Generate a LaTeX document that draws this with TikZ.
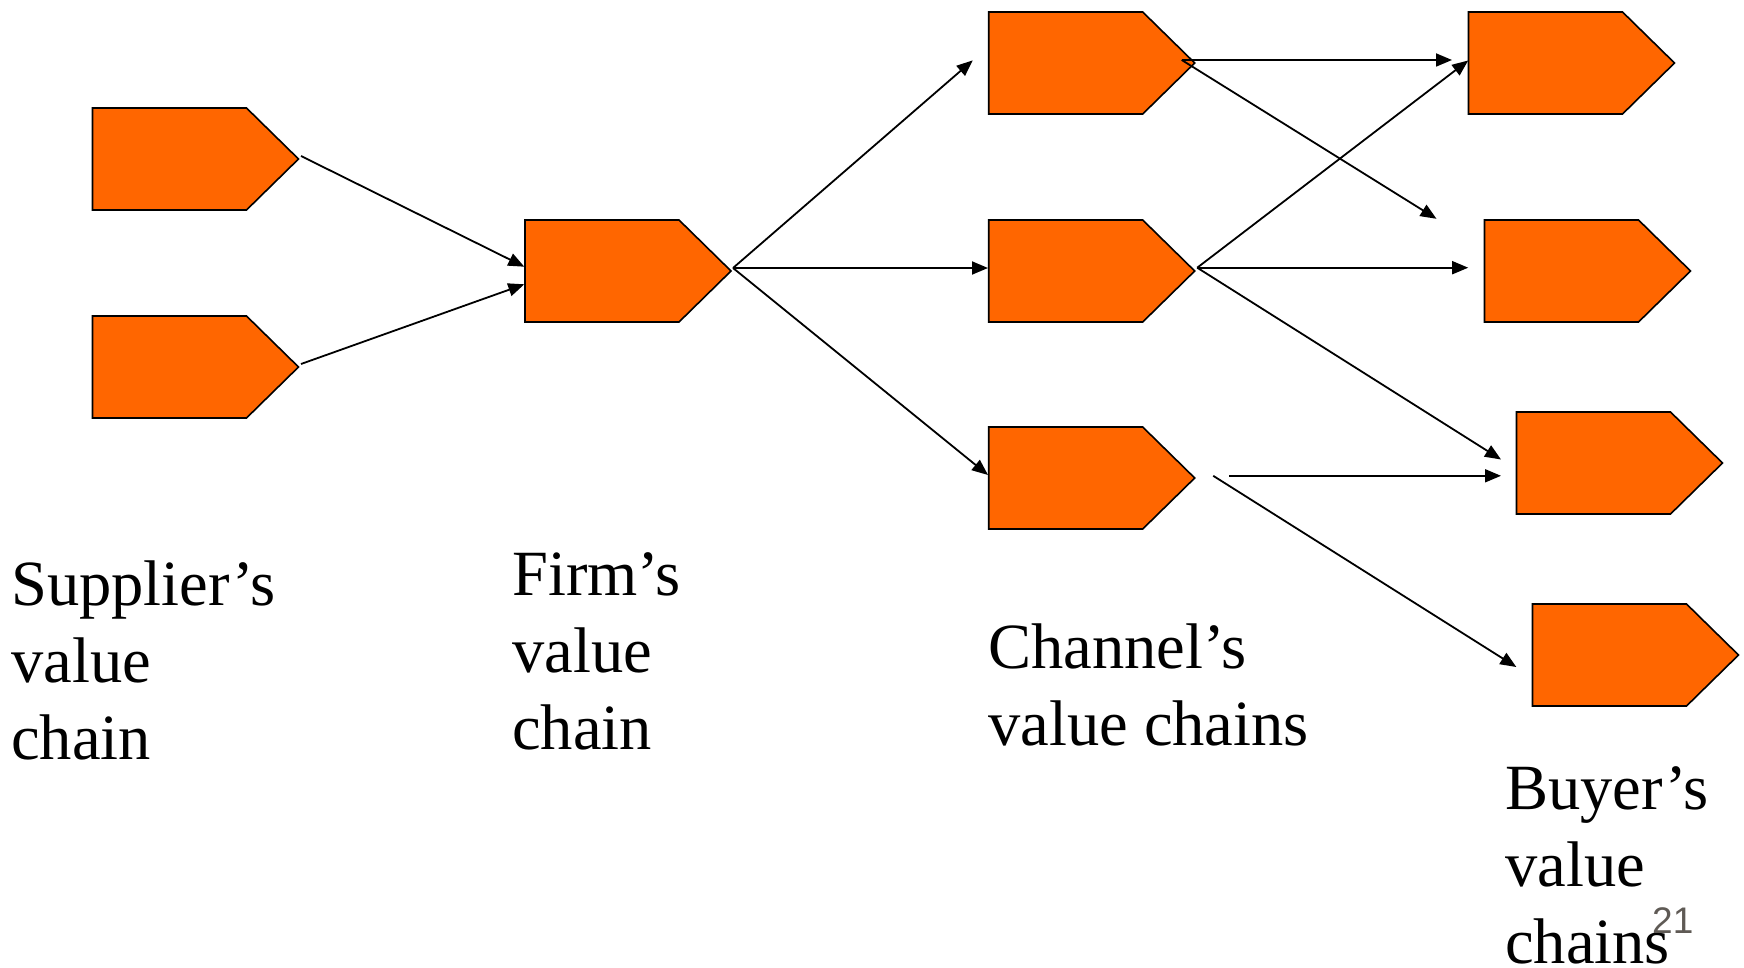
\documentclass[tikz,border=0pt]{standalone}
\usepackage{fontspec}
\setmainfont{Liberation Serif}
\newfontfamily\numfont{Liberation Sans}
\usetikzlibrary{arrows.meta}
\definecolor{boxorange}{HTML}{FF6600}
\definecolor{pagegray}{HTML}{5F5A55}
\newcommand\drawpent[1]{\draw[boxshape] (#1.north west) -- ([xshift=-52pt]#1.north east) -- (#1.east) -- ([xshift=-52pt]#1.south east) -- (#1.south west) -- cycle;}
\begin{document}
\begin{tikzpicture}[x=1pt,y=-1pt,
  vbox/.style={rectangle, minimum width=206pt, minimum height=102pt, inner sep=0pt, outer sep=0pt, anchor=north west},
  boxshape/.style={fill=boxorange, draw=black, line width=1.6pt, line join=miter},
  link/.style={line width=1.8pt, -{Triangle[length=16pt,width=13pt]}},
  caption/.style={anchor=base west, align=left, inner sep=0pt, font=\fontsize{64.5}{77}\selectfont}]
\useasboundingbox (0,0) rectangle (1744,968);
% value chain boxes
\node[vbox] (s1) at (92.5,108) {};
\node[vbox] (s2) at (92.5,316) {};
\node[vbox] (f)  at (525,220) {};
\node[vbox] (c1) at (988.7,12) {};
\node[vbox] (c2) at (988.7,220) {};
\node[vbox] (c3) at (988.7,427) {};
\node[vbox] (b1) at (1468.5,12) {};
\node[vbox] (b2) at (1484.5,220) {};
\node[vbox] (b3) at (1516.5,412) {};
\node[vbox] (b4) at (1532.5,604) {};
\drawpent{s1}\drawpent{s2}\drawpent{f}
\drawpent{c1}\drawpent{c2}\drawpent{c3}
\drawpent{b1}\drawpent{b2}\drawpent{b3}\drawpent{b4}
% connectors
\draw[link] ([shift={(2.5,-3)}]s1.east) -- ([shift={(-0.7,-4.3)}]f.west);
\draw[link] ([shift={(2.5,-3)}]s2.east) -- ([shift={(-0.7,13.3)}]f.west);
\draw[link] ([shift={(2,-3)}]f.east) -- ([shift={(-16,-2.6)}]c1.west);
\draw[link] ([shift={(2,-3)}]f.east) -- ([shift={(-0.7,-3)}]c2.west);
\draw[link] ([shift={(2,-3)}]f.east) -- ([shift={(-0.7,-3)}]c3.west);
\draw[link] ([shift={(-13,-3)}]c1.east) -- ([shift={(-16.5,-3)}]b1.west);
\draw[link] ([shift={(-13,-3)}]c1.east) -- ([shift={(-48,-1.2)}]b2.north west);
\draw[link] ([shift={(2.5,-3.3)}]c2.east) -- ([shift={(-0.3,-2.5)}]b1.west);
\draw[link] ([shift={(2.5,-3.3)}]c2.east) -- ([shift={(-16.3,-3.3)}]b2.west);
\draw[link] ([shift={(2.5,-3.3)}]c2.east) -- ([shift={(-15.5,-3.5)}]b3.west);
\draw[link] ([shift={(34.3,-2.2)}]c3.east) -- ([shift={(-15.5,12.8)}]b3.west);
\draw[link] ([shift={(18.5,-2.2)}]c3.east) -- ([shift={(-16.2,12)}]b4.west);
% captions (anchor at baseline of last line)
\node[caption] (tsup) at (11,759) {Supplier’s\\value\\chain};
\node[caption] (tfirm) at (512,749) {Firm’s\\value\\chain};
\node[caption] (tchan) at (988,745) {Channel’s\\value chains};
\node[caption] (tbuy) at (1505,963) {Buyer’s\\value\\chains};
\node[anchor=base west, inner sep=0pt, font=\numfont\fontsize{37}{37}\selectfont, text=pagegray] (pg) at (1652,933) {21};
\end{tikzpicture}
\end{document}
